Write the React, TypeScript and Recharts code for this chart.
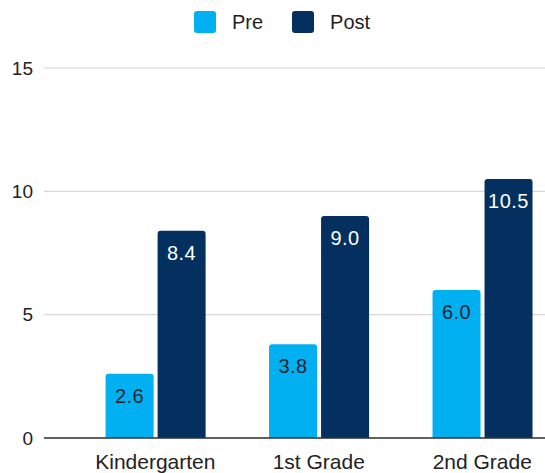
import React from "react";
import { BarChart, Bar, XAxis, YAxis, CartesianGrid, Legend, LabelList } from "recharts";

const categories = ["Kindergarten", "1st Grade", "2nd Grade"];
const preValues = [2.6, 3.8, 6.0];
const postValues = [8.4, 9.0, 10.5];
const yTicks = [0, 5, 10, 15];

const PRE_COLOR = "#00b0f0";
const POST_COLOR = "#03305f";
const FONT = "'Liberation Sans', Arial, sans-serif";

const data = categories.map((name, i) => ({ name, pre: preValues[i], post: postValues[i] }));

const LegendContent = () => (
  <div
    style={{
      height: 44,
      display: "flex",
      justifyContent: "center",
      alignItems: "center",
      fontFamily: FONT,
      fontSize: 20,
      color: "#222",
    }}
  >
    {[
      { label: "Pre", color: PRE_COLOR },
      { label: "Post", color: POST_COLOR },
    ].map((it, i) => (
      <div key={it.label} style={{ display: "flex", alignItems: "center", marginLeft: i ? 29 : 0 }}>
        <div style={{ width: 22, height: 22, borderRadius: 3, background: it.color, marginRight: 16 }} />
        <span>{it.label}</span>
      </div>
    ))}
  </div>
);

export default function App() {
  return (
    <div style={{ position: "absolute", left: 0, top: 0, width: 545, height: 473, overflow: "hidden", background: "#fff" }}>
      <BarChart
        width={564}
        height={473}
        data={data}
        margin={{ top: 24, right: 0, bottom: 0, left: 0 }}
        barSize={48}
        barGap={4}
      >
        <Legend verticalAlign="top" content={<LegendContent />} wrapperStyle={{ top: 0, left: 0, width: 564 }} />
        <CartesianGrid vertical={false} stroke="#cfcfcf" strokeWidth={1} />
        <XAxis
          dataKey="name"
          height={35}
          padding={{ left: 29.6, right: 0 }}
          tickLine={false}
          tickSize={0}
          tickMargin={16}
          axisLine={{ stroke: "#333", strokeWidth: 1.5 }}
          tick={{ fontSize: 21, fill: "#222", fontFamily: FONT }}
          interval={0}
        />
        <YAxis
          domain={[0, 15]}
          ticks={yTicks}
          width={44}
          axisLine={false}
          tickLine={false}
          tickSize={0}
          tickMargin={11}
          tick={{ fontSize: 19, fill: "#222", fontFamily: FONT }}
        />
        <Bar dataKey="pre" name="Pre" fill={PRE_COLOR} radius={[3, 3, 0, 0]} isAnimationActive={false}>
          <LabelList
            dataKey="pre"
            position="insideTop"
            offset={15}
            formatter={(v: number) => v.toFixed(1)}
            style={{ fontSize: 20, fill: "#1c2430", fontFamily: FONT, letterSpacing: 0.5 }}
          />
        </Bar>
        <Bar dataKey="post" name="Post" fill={POST_COLOR} radius={[3, 3, 0, 0]} isAnimationActive={false}>
          <LabelList
            dataKey="post"
            position="insideTop"
            offset={15}
            formatter={(v: number) => v.toFixed(1)}
            style={{ fontSize: 20, fill: "#ffffff", fontFamily: FONT, letterSpacing: 0.5 }}
          />
        </Bar>
      </BarChart>
    </div>
  );
}
